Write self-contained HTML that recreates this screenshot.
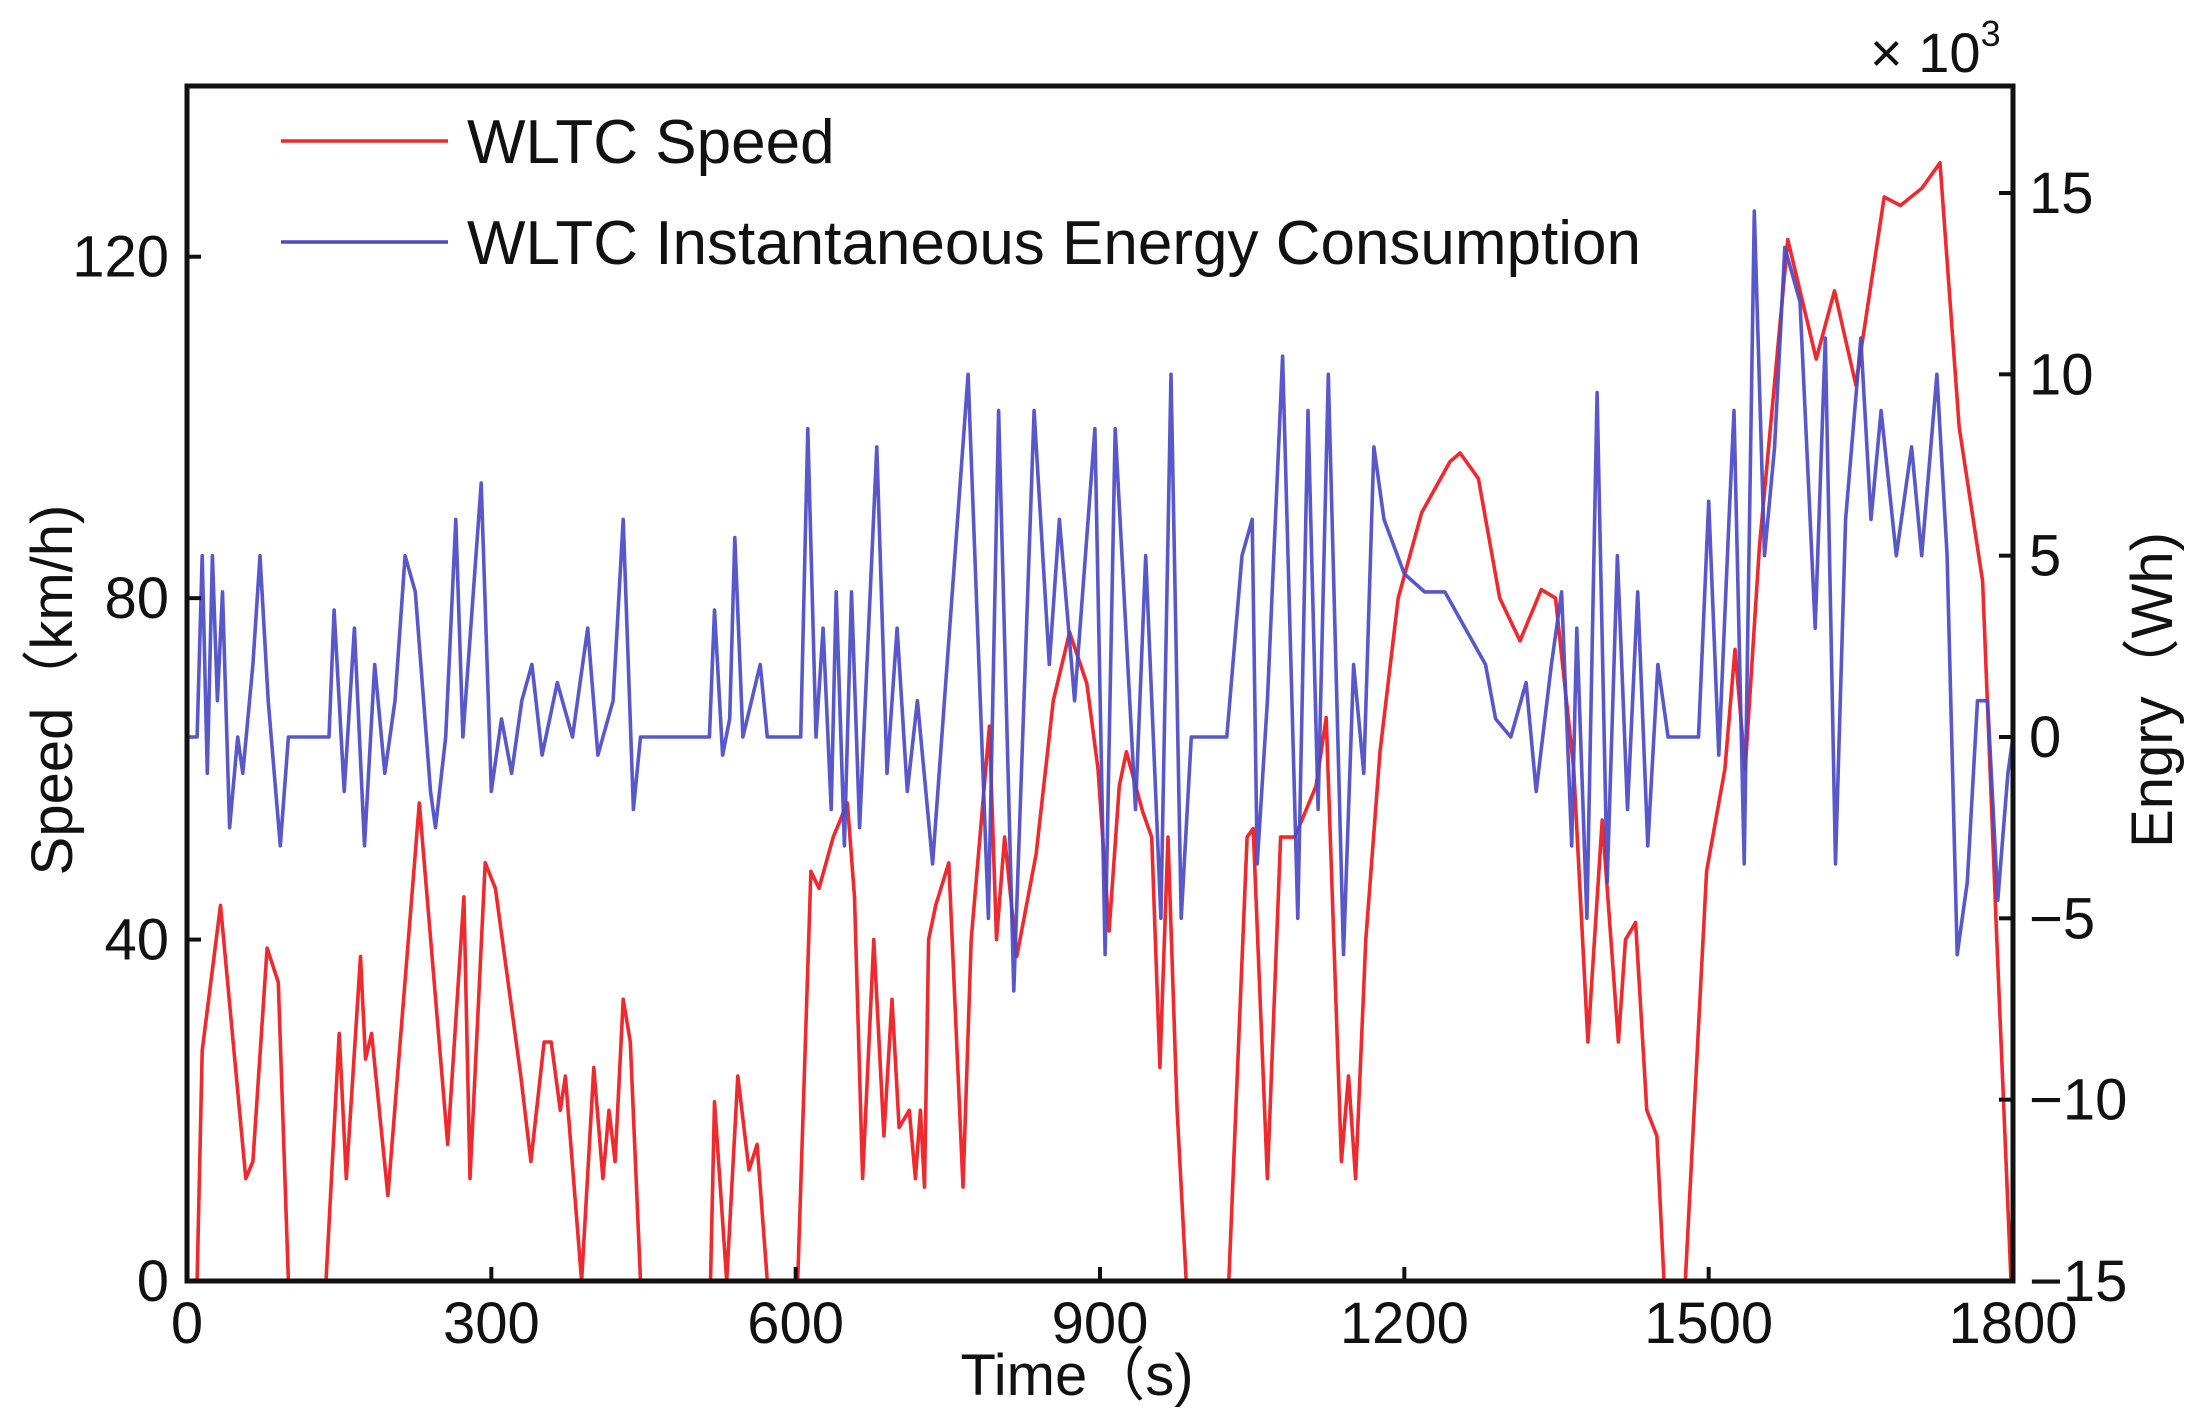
<!DOCTYPE html>
<html><head><meta charset="utf-8"><style>
html,body{margin:0;padding:0;background:#fff;}
svg{display:block;font-family:"Liberation Sans",Arial,sans-serif;}
</style></head><body>
<svg id="chart" width="2207" height="1423" viewBox="0 0 2207 1423" xmlns="http://www.w3.org/2000/svg">
<g id="plot"></g>
</svg>
<script>
const xTicks=[0,300,600,900,1200,1500,1800];
const speedTicks=[0,40,80,120];
const energyTicks=[-15,-10,-5,0,5,10,15];
const speedT=[0,10,15,33,58,65,79,90,100,137,150,157,171,176,182,198,229,257,273,279,294,304,329,339,352,359,368,373,389,401,410,416,422,430,437,447,516,520,532,543,554,562,572,602,615,623,637,651,658,666,677,687,695,702,712,718,723,727,731,738,751,765,773,791,798,806,818,837,854,870,887,898,909,919,926,942,951,959,967,976,985,1027,1045,1051,1065,1078,1092,1113,1123,1138,1145,1152,1162,1176,1194,1217,1245,1255,1273,1294,1314,1335,1349,1367,1381,1395,1411,1418,1428,1439,1449,1456,1477,1498,1516,1526,1536,1550,1578,1606,1624,1645,1673,1689,1710,1728,1747,1770,1784,1798];
const speedV=[0,0,27,44,12,14,39,35,0,0,29,12,38,26,29,10,56,16,45,12,49,46,24,14,28,28,20,24,0,25,12,20,14,33,28,0,0,21,0,24,13,16,0,0,48,46,52,56,45,12,40,17,33,18,20,12,20,11,40,44,49,11,40,65,40,52,38,50,68,76,70,60,41,58,62,55,52,25,52,20,0,0,52,53,12,52,52,58,66,14,24,12,40,62,80,90,96,97,94,80,75,81,80,60,28,54,28,40,42,20,17,0,0,48,60,74,60,86,122,108,116,105,127,126,128,131,100,82,40,0];
const energyT=[0,10,15,20,25,30,35,42,50,55,65,72,80,92,100,140,145,155,165,175,185,195,205,215,225,240,245,255,265,272,290,300,310,320,330,340,350,365,380,395,405,420,430,440,447,515,520,528,535,540,548,565,572,605,612,620,627,635,640,648,655,663,680,690,700,710,720,735,770,790,800,815,835,850,860,875,895,905,915,935,945,960,970,980,990,1025,1040,1050,1055,1065,1080,1095,1105,1115,1125,1140,1150,1160,1170,1180,1200,1220,1240,1260,1280,1290,1305,1320,1330,1345,1355,1365,1370,1380,1390,1400,1410,1420,1430,1440,1450,1460,1490,1500,1510,1520,1525,1535,1545,1555,1565,1575,1590,1605,1615,1625,1635,1650,1660,1670,1685,1700,1710,1725,1735,1745,1755,1765,1775,1785,1795,1800];
const energyV=[0,0,5,-1,5,1,4,-2.5,0,-1,2,5,1,-3,0,0,3.5,-1.5,3,-3,2,-1,1,5,4,-1.5,-2.5,0,6,0,7,-1.5,0.5,-1,1,2,-0.5,1.5,0,3,-0.5,1,6,-2,0,0,3.5,-0.5,0.5,5.5,0,2,0,0,8.5,0,3,-2,4,-3,4,-2.5,8,-1,3,-1.5,1,-3.5,10,-5,9,-7,9,2,6,1,8.5,-6,8.5,-2,5,-5,10,-5,0,0,5,6,-3.5,1,10.5,-5,9,-2,10,-6,2,-1,8,6,4.5,4,4,3,2,0.5,0,1.5,-1.5,2,4,-3,3,-5,9.5,-4,5,-2,4,-3,2,0,0,6.5,-0.5,6,9,-3.5,14.5,5,8,13.5,12,3,11,-3.5,6,11,6,9,5,8,5,10,5,-6,-4,1,1,-4.5,-1,0];

const L=187,R=2013,T=86,B=1281;
const xS=t=>L+(t-0)/1800*(R-L);
const yS=v=>B-(v-0)/140*(B-T);
const y15=193, yM15=1281;
const yE=e=>yM15-(e+15)/30*(yM15-y15);
const NS="http://www.w3.org/2000/svg";
const g=document.getElementById('plot');
function mk(tag,attrs){const e=document.createElementNS(NS,tag);for(const k in attrs)e.setAttribute(k,attrs[k]);g.appendChild(e);return e;}

let d='';speedT.forEach((t,i)=>{d+=(i?'L':'M')+xS(t).toFixed(1)+','+yS(speedV[i]).toFixed(1);});
const sp=mk('path',{d:d,fill:'none',stroke:'#ee2a2f','stroke-width':3.6,'stroke-linejoin':'round'});


let d2='';energyT.forEach((t,i)=>{d2+=(i?'L':'M')+xS(t).toFixed(1)+','+yE(energyV[i]).toFixed(1);});
const en=mk('path',{d:d2,fill:'none',stroke:'#4a4ac6','stroke-width':3.6,'stroke-linejoin':'round','stroke-opacity':0.92});



const fr=mk('rect',{x:L,y:T,width:R-L,height:B-T,fill:'none',stroke:'#111','stroke-width':5});



xTicks.forEach(t=>{
  const tk=mk('line',{x1:xS(t),x2:xS(t),y1:B,y2:B-14,stroke:'#111','stroke-width':4});
  
  
  const tx=mk('text',{x:xS(t),y:B+62,'font-size':58,'text-anchor':'middle',fill:'#111'});
  tx.textContent=t;
  
  
});
speedTicks.forEach(v=>{
  const tk=mk('line',{x1:L,x2:L+14,y1:yS(v),y2:yS(v),stroke:'#111','stroke-width':4});
  
  
  const tx=mk('text',{x:L-18,y:yS(v)+20,'font-size':58,'text-anchor':'end',fill:'#111'});
  tx.textContent=v;
  
  
});
energyTicks.forEach(v=>{
  const tk=mk('line',{x1:R,x2:R-14,y1:yE(v),y2:yE(v),stroke:'#111','stroke-width':4});
  
  
  const tx=mk('text',{x:R+16,y:yE(v)+20,'font-size':58,'text-anchor':'start',fill:'#111'});
  tx.textContent=v<0?'\u2212'+(-v):v;
  
  
});
const mul=mk('text',{x:1870,y:72,'font-size':56,fill:'#111'});
mul.innerHTML='× 10<tspan font-size="36" dy="-26">3</tspan>';


const xt=mk('text',{x:1077,y:1395,'font-size':58,'text-anchor':'middle',fill:'#111'});
xt.textContent='Time（s)';


const yt=mk('text',{x:0,y:0,'font-size':58,'text-anchor':'middle',fill:'#111',transform:'translate(72,690) rotate(-90)'});
yt.textContent='Speed（km/h)';


const yt2=mk('text',{x:0,y:0,'font-size':58,'text-anchor':'middle',fill:'#111',transform:'translate(2172,690) rotate(-90)'});
yt2.textContent='Engry（Wh)';


const l1=mk('line',{x1:281,x2:448,y1:141,y2:141,stroke:'#ee2a2f','stroke-width':3.6});


const t1=mk('text',{x:467,y:163,'font-size':62,fill:'#111'});
t1.textContent='WLTC Speed';


const l2=mk('line',{x1:281,x2:448,y1:242,y2:242,stroke:'#4a4ac6','stroke-width':3.6});


const t2=mk('text',{x:467,y:264,'font-size':62,fill:'#111'});
t2.textContent='WLTC Instantaneous Energy Consumption';


</script>
</body></html>
